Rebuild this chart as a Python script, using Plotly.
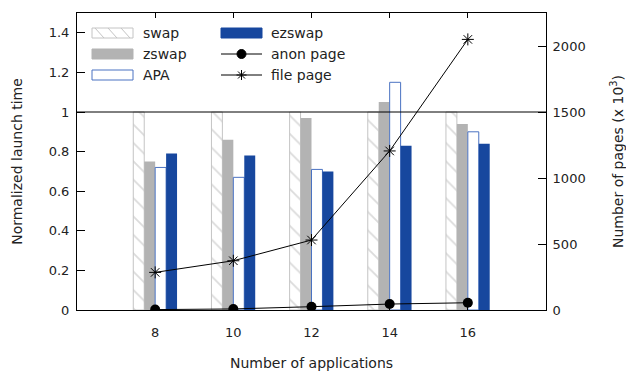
import plotly.graph_objects as go

# Number of applications launched
apps = [8, 10, 12, 14, 16]

# Normalized launch time per scheme
swap = [1.0, 1.0, 1.0, 1.0, 1.0]
zswap = [0.75, 0.86, 0.97, 1.05, 0.94]
apa = [0.72, 0.67, 0.71, 1.15, 0.90]
ezswap = [0.79, 0.78, 0.70, 0.83, 0.84]

# Number of pages (x 10^3)
anon_page = [3, 8, 25, 45, 55]
file_page = [285, 373, 530, 1205, 2050]

BAR_W = 0.28
FONT = "DejaVu Sans"
TXT = "#222222"
HATCH = "#c4c4c4"
GRAY = "#b3b3b3"
BLUE = "#17479e"
APA_LINE = "#4a72c2"

# plot area in pixels (used for the hand-drawn key)
L, R, T, B = 77, 546, 13, 310


def px(x):
    return (x - L) / (R - L)


def py(y):
    return (B - y) / (B - T)


fig = go.Figure()

fig.add_trace(go.Bar(
    x=apps, y=swap, name="swap", width=BAR_W, offset=-2 * BAR_W,
    marker=dict(color="white", line=dict(color=HATCH, width=1),
                pattern=dict(shape="\\", fgcolor="#b8b8b8", bgcolor="white",
                             size=13, solidity=0.14)),
))
fig.add_trace(go.Bar(
    x=apps, y=zswap, name="zswap", width=BAR_W, offset=-BAR_W,
    marker=dict(color=GRAY, line=dict(width=0)),
))
fig.add_trace(go.Bar(
    x=apps, y=apa, name="APA", width=BAR_W, offset=0,
    marker=dict(color="white", line=dict(color=APA_LINE, width=1)),
))
fig.add_trace(go.Bar(
    x=apps, y=ezswap, name="ezswap", width=BAR_W, offset=BAR_W,
    marker=dict(color=BLUE, line=dict(width=0)),
))
fig.add_trace(go.Scatter(
    x=apps, y=anon_page, name="anon page", yaxis="y2", mode="lines+markers",
    line=dict(color="black", width=1),
    marker=dict(symbol="circle", size=10, color="black"),
))
fig.add_trace(go.Scatter(
    x=apps, y=file_page, name="file page", yaxis="y2", mode="lines+markers",
    line=dict(color="black", width=1),
    marker=dict(symbol="asterisk-open", size=10, color="black",
                line=dict(color="black", width=1)),
))

# baseline at normalized time 1
fig.add_shape(type="line", xref="paper", x0=0, x1=1, yref="y", y0=1, y1=1,
              line=dict(color="black", width=1), layer="above")

# ---- key (two columns) ----
shapes = []
annots = []
col1, col2 = 92, 221
sw = 41


def rect(x, yc, fill, line_color, h=10):
    shapes.append(dict(type="rect", xref="paper", yref="paper",
                       x0=px(x), x1=px(x + sw), y0=py(yc - h / 2), y1=py(yc + h / 2),
                       fillcolor=fill, line=dict(color=line_color, width=1)))


def label(x, yc, text):
    annots.append(dict(xref="paper", yref="paper", x=px(x), y=py(yc),
                       xanchor="left", yanchor="middle", showarrow=False,
                       text=text, font=dict(family=FONT, size=14, color=TXT)))


rows = [33, 54, 75]

# swap: hatched box
rect(col1, rows[0], "white", HATCH)
for hx in (col1 + 3, col1 + 16, col1 + 29):
    shapes.append(dict(type="line", xref="paper", yref="paper",
                       x0=px(hx), x1=px(hx + 9), y0=py(rows[0] - 5), y1=py(rows[0] + 5),
                       line=dict(color=HATCH, width=1)))
label(col1 + 49, rows[0], "swap")

rect(col1, rows[1], GRAY, GRAY)
label(col1 + 49, rows[1], "zswap")

rect(col1, rows[2], "white", APA_LINE)
label(col1 + 49, rows[2], "APA")

rect(col2, rows[0], BLUE, BLUE)
label(col2 + 48, rows[0], "ezswap")

for yc in rows[1:]:
    shapes.append(dict(type="line", xref="paper", yref="paper",
                       x0=px(col2), x1=px(col2 + sw), y0=py(yc), y1=py(yc),
                       line=dict(color="black", width=1)))
shapes.append(dict(type="circle", xref="paper", yref="paper",
                   xsizemode="pixel", ysizemode="pixel",
                   xanchor=px(col2 + sw / 2), yanchor=py(rows[1]),
                   x0=-4.5, x1=4.5, y0=-4.5, y1=4.5,
                   fillcolor="black", line=dict(color="black", width=1)))
shapes.append(dict(type="path", xref="paper", yref="paper",
                   xsizemode="pixel", ysizemode="pixel",
                   xanchor=px(col2 + sw / 2), yanchor=py(rows[2]),
                   path="M -5 0 L 5 0 M 0 -5 L 0 5 M -3.5 -3.5 L 3.5 3.5 M -3.5 3.5 L 3.5 -3.5",
                   line=dict(color="black", width=1)))
label(col2 + 48, rows[1], "anon page")
label(col2 + 48, rows[2], "file page")

for s in shapes:
    fig.add_shape(**s)
for a in annots:
    fig.add_annotation(**a)

fig.update_layout(
    width=626, height=371,
    margin=dict(l=L, r=626 - R, t=T, b=371 - B),
    plot_bgcolor="white", paper_bgcolor="white",
    barmode="overlay",
    font=dict(family=FONT, size=13, color=TXT),
    showlegend=False,
    xaxis=dict(
        range=[6, 18], tickvals=apps, ticktext=[str(a) for a in apps],
        ticks="inside", ticklen=5, tickcolor="black", mirror="ticks",
        ticklabelstandoff=10, automargin=False,
        showline=True, linecolor="black", linewidth=1, showgrid=False,
        zeroline=False,
        title=dict(text="Number of applications", font=dict(size=14), standoff=22),
    ),
    yaxis=dict(
        range=[0, 1.5], tickvals=[0, 0.2, 0.4, 0.6, 0.8, 1, 1.2, 1.4],
        ticktext=["0", "0.2", "0.4", "0.6", "0.8", "1", "1.2", "1.4"],
        ticks="inside", ticklen=8, tickcolor="black", ticklabelstandoff=4,
        automargin=False,
        showline=True, linecolor="black", linewidth=1, showgrid=False,
        zeroline=False,
        title=dict(text="Normalized launch time", font=dict(size=14), standoff=22),
    ),
    yaxis2=dict(
        overlaying="y", side="right", range=[0, 2250],
        tickvals=[0, 500, 1000, 1500, 2000],
        ticks="inside", ticklen=8, tickcolor="black", ticklabelstandoff=3,
        automargin=False,
        showline=True, linecolor="black", linewidth=1, showgrid=False,
        zeroline=False,
        title=dict(text="Number of pages (x 10<sup>3</sup>)", font=dict(size=14),
                   standoff=29),
    ),
)

fig.write_html("out.html")
